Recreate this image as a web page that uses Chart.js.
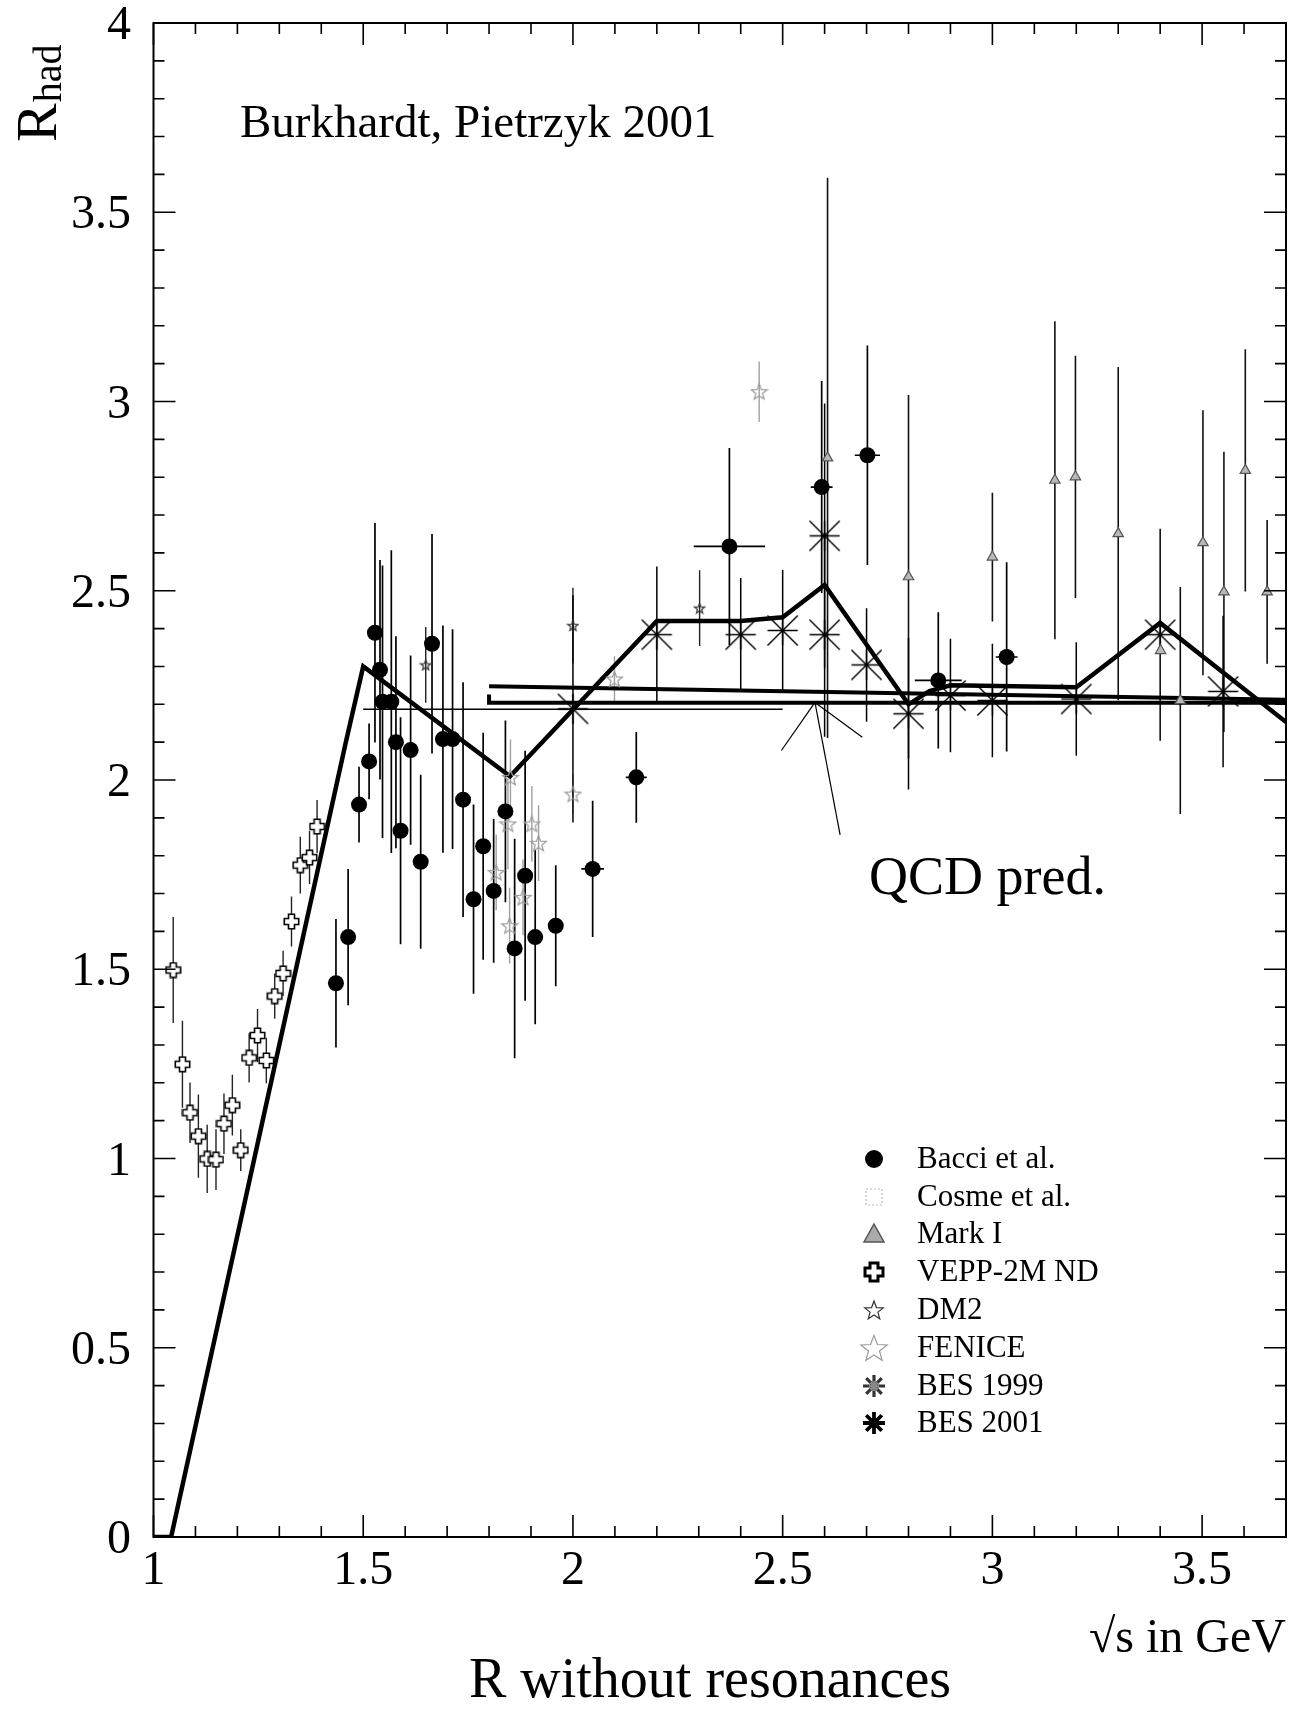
<!DOCTYPE html>
<html><head><meta charset="utf-8">
<script src="https://cdn.jsdelivr.net/npm/chart.js@4.4.0/dist/chart.umd.min.js"></script>
<style>html,body{margin:0;padding:0;background:#fff;}#wrap{width:1303px;height:1714px;position:relative;}</style>
</head><body>
<div id="wrap"><canvas id="c" width="1303" height="1714"></canvas></div>
<script>
// ---------------- data ----------------
const xTickValues = [1, 1.5, 2, 2.5, 3, 3.5];
const xTickLabels = ['1', '1.5', '2', '2.5', '3', '3.5'];
const yTickValues = [0, 0.5, 1, 1.5, 2, 2.5, 3, 3.5, 4];
const yTickLabels = ['0', '0.5', '1', '1.5', '2', '2.5', '3', '3.5', '4'];

// Bacci et al. (filled circles)
const bacciX = [1.435,1.464,1.490,1.514,1.528,1.540,1.546,1.567,1.578,1.589,1.613,1.637,1.664,1.690,1.713,1.738,1.763,1.786,1.811,1.839,1.861,1.886,1.910,1.959,2.047,2.151,2.373,2.593,2.702,2.871,3.034];
const bacciY = [1.463,1.585,1.935,2.049,2.389,2.291,2.207,2.207,2.100,1.866,2.079,1.784,2.360,2.108,2.108,1.948,1.685,1.825,1.707,1.917,1.555,1.747,1.585,1.615,1.765,2.007,2.617,2.774,2.858,2.263,2.325];
const bacciErrY = [0.17,0.18,0.10,0.10,0.29,0.29,0.36,0.40,0.28,0.30,0.25,0.23,0.29,0.30,0.29,0.31,0.25,0.30,0.19,0.24,0.29,0.33,0.23,0.16,0.18,0.12,0.26,0.28,0.29,0.18,0.25];
const bacciErrX = [0.015,0.015,0.015,0.015,0.015,0.015,0.015,0.015,0.015,0.015,0.015,0.015,0.015,0.015,0.015,0.015,0.015,0.015,0.015,0.015,0.015,0.015,0.015,0.015,0.027,0.025,0.085,0.026,0.030,0.056,0.026];

// Cosme et al. (no visible points)
const cosmeX = [];
const cosmeY = [];

// Mark I (grey triangles)
const markX = [2.607,2.800,3.000,3.149,3.198,3.300,3.401,3.448,3.502,3.552,3.603,3.655];
const markY = [2.851,2.537,2.589,2.792,2.801,2.651,2.342,2.210,2.627,2.497,2.818,2.497];
const markErrY = [0.74,0.48,0.17,0.42,0.32,0.44,0,0.30,0.35,0.37,0.32,0.19];

// VEPP-2M ND (open crosses)
const veppX = [1.047,1.069,1.087,1.107,1.128,1.149,1.168,1.188,1.208,1.228,1.248,1.269,1.289,1.309,1.329,1.350,1.372,1.390];
const veppY = [1.498,1.249,1.121,1.059,0.999,0.997,1.092,1.141,1.022,1.266,1.325,1.259,1.429,1.489,1.626,1.775,1.795,1.877];
const veppErrY = [0.14,0.115,0.08,0.11,0.09,0.08,0.08,0.08,0.055,0.065,0.07,0.06,0.06,0.06,0.066,0.075,0.07,0.07];

// DM2 (small stars)
const dm2X = [1.649, 2.000, 2.302];
const dm2Y = [2.304, 2.408, 2.454];
const dm2ErrY = [0.10, 0.10, 0.10];

// FENICE (grey open stars)
const feniceX = [1.817,1.845,1.849,1.851,1.881,1.902,1.918,2.000,2.099,2.444];
const feniceY = [1.756,1.884,1.615,2.007,1.690,1.884,1.833,1.963,2.267,3.026];
const feniceErrY = [0.10,0.12,0.10,0.10,0.10,0.10,0.10,0.05,0.06,0.08];

// BES 1999 (asterisks)
const bes99X = [2.6, 3.2, 3.4, 3.55];
const bes99Y = [2.645, 2.214, 2.384, 2.234];
const bes99ErrY = [0.35, 0.15, 0.28, 0.20];

// BES 2001 (asterisks)
const bes01X = [2.0, 2.2, 2.4, 2.5, 2.6, 2.7, 2.8, 2.9, 3.0];
const bes01Y = [2.188, 2.384, 2.384, 2.395, 2.384, 2.304, 2.175, 2.223, 2.210];
const bes01ErrY = [0.30, 0.18, 0.15, 0.16, 0.27, 0.15, 0.20, 0.15, 0.15];

// thick parametrisation line
const paramX = [1.0, 1.042, 1.458, 1.5, 1.85, 2.2, 2.4, 2.5, 2.6, 2.8, 2.85, 2.9, 3.2, 3.4, 3.7];
const paramY = [0, 0, 2.097, 2.30, 2.01, 2.42, 2.42, 2.43, 2.515, 2.20, 2.235, 2.25, 2.245, 2.415, 2.153];

// QCD prediction lines
const qcdHiX = [1.8, 3.7];
const qcdHiY = [2.248, 2.212];
const qcdLoX = [1.8, 1.8, 3.7];
const qcdLoY = [2.226, 2.204, 2.204];
const thinX = [1.5, 2.5];
const thinY = [2.187, 2.187];

// annotation pointer for "QCD pred."
const arrowTip = [2.577, 2.205];
const arrowEndsX = [2.497, 2.690, 2.637];
const arrowEndsY = [2.078, 2.113, 1.855];

const legendLabels = ['Bacci et al.', 'Cosme et al.', 'Mark I', 'VEPP-2M ND', 'DM2', 'FENICE', 'BES 1999', 'BES 2001'];

// ---------------- helpers ----------------
const pts = (xs, ys) => xs.map((x, i) => ({x: x, y: ys[i]}));
const SERIF = '"Liberation Serif", "DejaVu Serif", serif';

function makeCross(size, arm, lw) {
  const c = document.createElement('canvas'); c.width = c.height = size;
  const g = c.getContext('2d');
  const L = lw / 2 + 0.5, R = size - lw / 2 - 0.5, a = size / 2 - arm / 2, b = size / 2 + arm / 2;
  g.beginPath();
  g.moveTo(a, L); g.lineTo(b, L); g.lineTo(b, a); g.lineTo(R, a); g.lineTo(R, b); g.lineTo(b, b);
  g.lineTo(b, R); g.lineTo(a, R); g.lineTo(a, b); g.lineTo(L, b); g.lineTo(L, a); g.lineTo(a, a);
  g.closePath();
  g.fillStyle = '#fff'; g.fill();
  g.lineWidth = lw; g.strokeStyle = '#000'; g.stroke();
  return c;
}
function makeStar(size, stroke, lw, fill) {
  const c = document.createElement('canvas'); c.width = c.height = size;
  const g = c.getContext('2d');
  const cx = size / 2, cy = size / 2 + size * 0.04, ro = size / 2 - lw, ri = ro * 0.42;
  g.beginPath();
  for (let k = 0; k < 10; k++) {
    const r = k % 2 ? ri : ro, ang = -Math.PI / 2 + k * Math.PI / 5;
    const px = cx + r * Math.cos(ang), py = cy + r * Math.sin(ang);
    k ? g.lineTo(px, py) : g.moveTo(px, py);
  }
  g.closePath();
  if (fill) { g.fillStyle = fill; g.fill(); }
  g.lineWidth = lw; g.strokeStyle = stroke; g.stroke();
  return c;
}
function makeAsterisk(size, lw, color) {
  const c = document.createElement('canvas'); c.width = c.height = size;
  const g = c.getContext('2d');
  const m = lw, s = size - lw, h = size / 2;
  g.strokeStyle = color; g.lineWidth = lw; g.lineCap = 'butt';
  g.beginPath();
  g.moveTo(m, m); g.lineTo(s, s);
  g.moveTo(s, m); g.lineTo(m, s);
  g.moveTo(m, h); g.lineTo(s, h);
  g.moveTo(h, m); g.lineTo(h, s);
  g.stroke();
  return c;
}
const veppImg = makeCross(17, 6, 1.6);
const veppLegendImg = makeCross(22, 8, 3);
const dm2Img = makeStar(13, '#333', 1.2, null);
const feniceImg = makeStar(19, '#9a9a9a', 1.2, null);
const feniceLegendImg = makeStar(30, '#9a9a9a', 1.2, null);
const dm2LegendImg = makeStar(22, '#333', 1.2, null);
const besImg = makeAsterisk(33, 1.4, '#000');

const errorSets = {
  bacci: {y: bacciErrY, x: bacciErrX, color: '#000', w: 1.7},
  mark: {y: markErrY, color: '#111', w: 1.6},
  vepp: {y: veppErrY, color: '#222', w: 1.4},
  dm2: {y: dm2ErrY, color: '#222', w: 1.4},
  fenice: {y: feniceErrY, color: '#a0a0a0', w: 1.4},
  bes99: {y: bes99ErrY, color: '#000', w: 1.5},
  bes01: {y: bes01ErrY, color: '#000', w: 1.5}
};

const errorBarPlugin = {
  id: 'errorBars',
  beforeDatasetsDraw(chart) {
    const {ctx, chartArea: ca, scales} = chart;
    const sx = scales.x, sy = scales.y;
    ctx.save();
    ctx.beginPath(); ctx.rect(ca.left, ca.top, ca.right - ca.left, ca.bottom - ca.top); ctx.clip();
    chart.data.datasets.forEach(ds => {
      const e = errorSets[ds.key];
      if (!e) return;
      ctx.strokeStyle = e.color; ctx.lineWidth = e.w;
      ds.data.forEach((p, j) => {
        const px = sx.getPixelForValue(p.x), py = sy.getPixelForValue(p.y);
        const ey = e.y ? e.y[j] : 0, ex = e.x ? e.x[j] : 0;
        ctx.beginPath();
        if (ey) { ctx.moveTo(px, sy.getPixelForValue(p.y - ey)); ctx.lineTo(px, sy.getPixelForValue(p.y + ey)); }
        if (ex) { ctx.moveTo(sx.getPixelForValue(p.x - ex), py); ctx.lineTo(sx.getPixelForValue(p.x + ex), py); }
        ctx.stroke();
      });
    });
    ctx.restore();
  }
};

function drawAsterisk(ctx, x, y, r, lw, color) {
  ctx.save(); ctx.strokeStyle = color; ctx.lineWidth = lw; ctx.beginPath();
  for (let k = 0; k < 4; k++) {
    const a = k * Math.PI / 4, dx = Math.cos(a) * r, dy = Math.sin(a) * r;
    ctx.moveTo(x - dx, y - dy); ctx.lineTo(x + dx, y + dy);
  }
  ctx.stroke(); ctx.restore();
}

const framePlugin = {
  id: 'frameAndText',
  afterDraw(chart) {
    const {ctx, chartArea: ca, scales} = chart;
    const sx = scales.x, sy = scales.y;
    ctx.save();
    // frame
    ctx.strokeStyle = '#000'; ctx.lineWidth = 2;
    ctx.strokeRect(ca.left, ca.top, ca.right - ca.left, ca.bottom - ca.top);
    // ticks
    ctx.lineWidth = 1.6; ctx.beginPath();
    for (let i = 0; i <= 27; i++) {
      const v = 1 + i * 0.1, px = sx.getPixelForValue(v);
      const major = xTickValues.some(t => Math.abs(t - v) < 1e-6), len = major ? 22 : 11;
      ctx.moveTo(px, ca.bottom); ctx.lineTo(px, ca.bottom - len);
      ctx.moveTo(px, ca.top); ctx.lineTo(px, ca.top + len);
    }
    for (let i = 0; i <= 40; i++) {
      const v = i * 0.1, py = sy.getPixelForValue(v);
      const major = yTickValues.some(t => Math.abs(t - v) < 1e-6), len = major ? 22 : 11;
      ctx.moveTo(ca.left, py); ctx.lineTo(ca.left + len, py);
      ctx.moveTo(ca.right, py); ctx.lineTo(ca.right - len, py);
    }
    ctx.stroke();
    // tick labels
    ctx.fillStyle = '#000';
    ctx.font = '48px ' + SERIF;
    ctx.textAlign = 'center'; ctx.textBaseline = 'alphabetic';
    xTickValues.forEach((v, i) => ctx.fillText(xTickLabels[i], sx.getPixelForValue(v), 1584));
    ctx.textAlign = 'right';
    yTickValues.forEach((v, i) => ctx.fillText(yTickLabels[i], 131, sy.getPixelForValue(v) + 16));
    // axis titles
    ctx.textAlign = 'right';
    ctx.font = '48px ' + SERIF;
    ctx.fillText('\u221As in GeV', ca.right, 1652);
    ctx.textAlign = 'center';
    ctx.font = '56px ' + SERIF;
    ctx.fillText('R without resonances', 710, 1697);
    // R_had rotated
    ctx.save();
    ctx.translate(56, 142); ctx.rotate(-Math.PI / 2);
    ctx.textAlign = 'left';
    ctx.font = '58px ' + SERIF;
    ctx.fillText('R', 0, 0);
    const rw = ctx.measureText('R').width;
    ctx.font = '40px ' + SERIF;
    ctx.fillText('had', rw + 1, 5);
    ctx.restore();
    // annotations
    ctx.textAlign = 'left';
    ctx.font = '47px ' + SERIF;
    ctx.fillText('Burkhardt, Pietrzyk 2001', 240, 137);
    ctx.font = '54px ' + SERIF;
    ctx.fillText('QCD pred.', 869, 894);
    // legend
    const rows = [1159, 1197, 1234, 1272, 1310, 1348, 1386, 1423];
    const lx = 874, tx = 917;
    ctx.font = '31px ' + SERIF; ctx.textBaseline = 'middle';
    legendLabels.forEach((lab, i) => ctx.fillText(lab, tx, rows[i] + 1));
    // symbols
    ctx.fillStyle = '#000';
    ctx.beginPath(); ctx.arc(lx, rows[0], 9, 0, Math.PI * 2); ctx.fill();
    ctx.setLineDash([2, 2]); ctx.strokeStyle = '#bbb'; ctx.lineWidth = 1.2;
    ctx.strokeRect(lx - 8, rows[1] - 8, 16, 16); ctx.setLineDash([]);
    ctx.beginPath(); ctx.moveTo(lx, rows[2] - 10); ctx.lineTo(lx + 10, rows[2] + 8); ctx.lineTo(lx - 10, rows[2] + 8); ctx.closePath();
    ctx.fillStyle = '#aaa'; ctx.fill(); ctx.strokeStyle = '#555'; ctx.lineWidth = 1.5; ctx.stroke();
    ctx.drawImage(veppLegendImg, lx - 11, rows[3] - 11);
    ctx.drawImage(dm2LegendImg, lx - 11, rows[4] - 11);
    ctx.drawImage(feniceLegendImg, lx - 15, rows[5] - 15);
    drawAsterisk(ctx, lx, rows[6], 11, 3.2, '#333');
    drawAsterisk(ctx, lx, rows[6], 5, 2.5, '#888');
    drawAsterisk(ctx, lx, rows[7], 11, 3.8, '#000');
    ctx.restore();
  }
};

const lineDs = (key, xs, ys, w, order) => ({
  key: key, data: pts(xs, ys), showLine: true, borderColor: '#000', borderWidth: w,
  pointRadius: 0, pointHoverRadius: 0, fill: false, tension: 0, order: order
});

const datasets = [
  {key: 'bacci', label: legendLabels[0], data: pts(bacciX, bacciY), pointStyle: 'circle', pointRadius: 8,
   backgroundColor: '#000', borderColor: '#000', borderWidth: 0, order: 1},
  {key: 'cosme', label: legendLabels[1], data: pts(cosmeX, cosmeY), pointStyle: 'rect', pointRadius: 7,
   backgroundColor: 'rgba(0,0,0,0)', borderColor: '#bbb', borderWidth: 1, order: 1},
  {key: 'mark', label: legendLabels[2], data: pts(markX, markY), pointStyle: 'triangle', pointRadius: 6,
   backgroundColor: '#b8b8b8', borderColor: '#555', borderWidth: 1.2, order: 1},
  {key: 'vepp', label: legendLabels[3], data: pts(veppX, veppY), pointStyle: veppImg, pointRadius: 8, order: 1},
  {key: 'dm2', label: legendLabels[4], data: pts(dm2X, dm2Y), pointStyle: dm2Img, pointRadius: 6, order: 1},
  {key: 'fenice', label: legendLabels[5], data: pts(feniceX, feniceY), pointStyle: feniceImg, pointRadius: 9, order: 1},
  {key: 'bes99', label: legendLabels[6], data: pts(bes99X, bes99Y), pointStyle: besImg, pointRadius: 16, order: 2},
  {key: 'bes01', label: legendLabels[7], data: pts(bes01X, bes01Y), pointStyle: besImg, pointRadius: 16, order: 2},
  lineDs('param', paramX, paramY, 4.5, 5),
  lineDs('qcdHi', qcdHiX, qcdHiY, 4, 6),
  lineDs('qcdLo', qcdLoX, qcdLoY, 4, 6),
  lineDs('thin', thinX, thinY, 1.6, 6),
  lineDs('arrow1', [arrowTip[0], arrowEndsX[0]], [arrowTip[1], arrowEndsY[0]], 1.2, 7),
  lineDs('arrow2', [arrowTip[0], arrowEndsX[1]], [arrowTip[1], arrowEndsY[1]], 1.2, 7),
  lineDs('arrow3', [arrowTip[0], arrowEndsX[2]], [arrowTip[1], arrowEndsY[2]], 1.2, 7)
];

new Chart(document.getElementById('c'), {
  type: 'scatter',
  data: {datasets: datasets},
  options: {
    responsive: false, animation: false, devicePixelRatio: 1,
    layout: {padding: {left: 153.5, right: 15, top: 23, bottom: 177}},
    scales: {
      x: {type: 'linear', min: 1, max: 3.7, display: false},
      y: {type: 'linear', min: 0, max: 4, display: false}
    },
    plugins: {legend: {display: false}, tooltip: {enabled: false}}
  },
  plugins: [errorBarPlugin, framePlugin]
});
</script>
</body></html>
